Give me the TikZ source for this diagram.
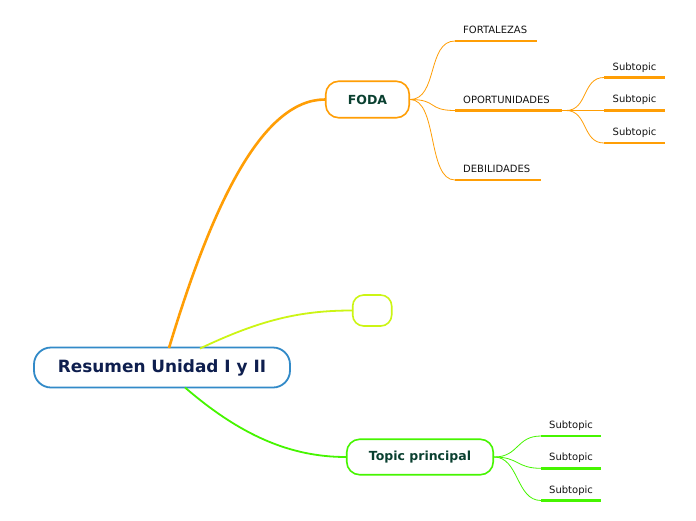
\documentclass[tikz,border=0pt]{standalone}
\usepackage{fontspec}
\setmainfont{DejaVu Sans}
\definecolor{orng}{RGB}{255,158,5}
\definecolor{ylw}{RGB}{204,245,20}
\definecolor{grn}{RGB}{70,245,0}
\definecolor{rootblue}{RGB}{50,138,200}
\definecolor{navy}{RGB}{14,30,78}
\definecolor{dkgreen}{RGB}{10,64,48}
\definecolor{lbl}{RGB}{20,20,20}
\tikzset{
  rootbox/.style={draw=rootblue,line width=1.8pt,fill=white,rounded corners=17pt,minimum width=256pt,minimum height=40pt,inner sep=0pt,text=navy,font=\fontsize{16.9}{18}\selectfont\bfseries},
  topicbox/.style={line width=1.6pt,fill=white,inner sep=0pt,text=dkgreen,font=\fontsize{12.5}{14}\selectfont\bfseries},
  lab/.style={anchor=base west,inner sep=0pt,text=lbl,font=\fontsize{10}{11}\selectfont},
  uline/.style={line width=2.6pt},
  thin/.style={line width=0.8pt},
}
\begin{document}
\begin{tikzpicture}[x=1pt,y=-1pt]
\useasboundingbox[fill=white] (0,0) rectangle (696,520);
% main nodes
\node[rootbox] (root) at (162,367.5) {Resumen Unidad I y II};
\node[topicbox,draw=orng,rounded corners=13pt,minimum width=83.5pt,minimum height=36.5pt] (foda) at (367.5,99.5) {FODA};
\node[topicbox,draw=ylw,rounded corners=11pt,minimum width=39pt,minimum height=31pt] (empty) at (372.2,310.5) {};
\node[topicbox,draw=grn,rounded corners=13pt,minimum width=146.5pt,minimum height=35.5pt] (topic) at (420,457) {Topic principal};
% main connectors
\coordinate (r1) at (169,348);
\coordinate (r2) at (200,348.5);
\coordinate (r3) at (185,387.5);
\draw[orng,line width=2.6pt] (r1) .. controls (212,205) and (262,99.5) .. (foda.west);
\draw[ylw,line width=1.8pt] (r2) .. controls (260,320) and (300,310.5) .. (empty.west);
\draw[grn,line width=1.8pt] (r3) .. controls (240,435) and (290,457) .. (topic.west);
% FODA children
\coordinate (f1) at (455,41); \coordinate (f1e) at (537,41);
\coordinate (f2) at (455,110.5); \coordinate (f2e) at (562,110.5);
\coordinate (f3) at (455,180); \coordinate (f3e) at (541,180);
\node[lab] (fort) at (463,33) {FORTALEZAS};
\node[lab] (opor) at (463,103.2) {OPORTUNIDADES};
\node[lab] (debi) at (463,172) {DEBILIDADES};
\draw[orng,uline] (f1) -- (f1e);
\draw[orng,uline] (f2) -- (f2e);
\draw[orng,uline] (f3) -- (f3e);
\foreach \c in {f1,f2,f3}
  \draw[orng,thin] (foda.east) .. controls +(28,0) and +(-28,0) .. (\c);
% OPORTUNIDADES children
\coordinate (o0) at (566,110.5);
\coordinate (o1) at (604,77.5); \coordinate (o1e) at (665,77.5);
\coordinate (o2) at (604,110.5); \coordinate (o2e) at (665,110.5);
\coordinate (o3) at (604,143); \coordinate (o3e) at (665,143);
\node[lab] (os1) at (612.5,70) {Subtopic};
\node[lab] (os2) at (612.5,102.7) {Subtopic};
\node[lab] (os3) at (612.5,135) {Subtopic};
\draw[orng,uline] (o1) -- (o1e);
\draw[orng,uline] (o2) -- (o2e);
\draw[orng,uline] (o3) -- (o3e);
\draw[orng,thin] (f2e) -- (o0);
\foreach \c in {o1,o2,o3}
  \draw[orng,thin] (o0) .. controls +(22,0) and +(-22,0) .. (\c);
% Topic principal children
\coordinate (g1) at (541,436); \coordinate (g1e) at (601,436);
\coordinate (g2) at (541,468.3); \coordinate (g2e) at (601,468.3);
\coordinate (g3) at (541,500.5); \coordinate (g3e) at (601,500.5);
\node[lab] (gs1) at (549,428) {Subtopic};
\node[lab] (gs2) at (549,460) {Subtopic};
\node[lab] (gs3) at (549,493.3) {Subtopic};
\draw[grn,uline] (g1) -- (g1e);
\draw[grn,uline] (g2) -- (g2e);
\draw[grn,uline] (g3) -- (g3e);
\foreach \c in {g1,g2,g3}
  \draw[grn,thin] (topic.east) .. controls +(25,0) and +(-25,0) .. (\c);
\end{tikzpicture}
\end{document}
